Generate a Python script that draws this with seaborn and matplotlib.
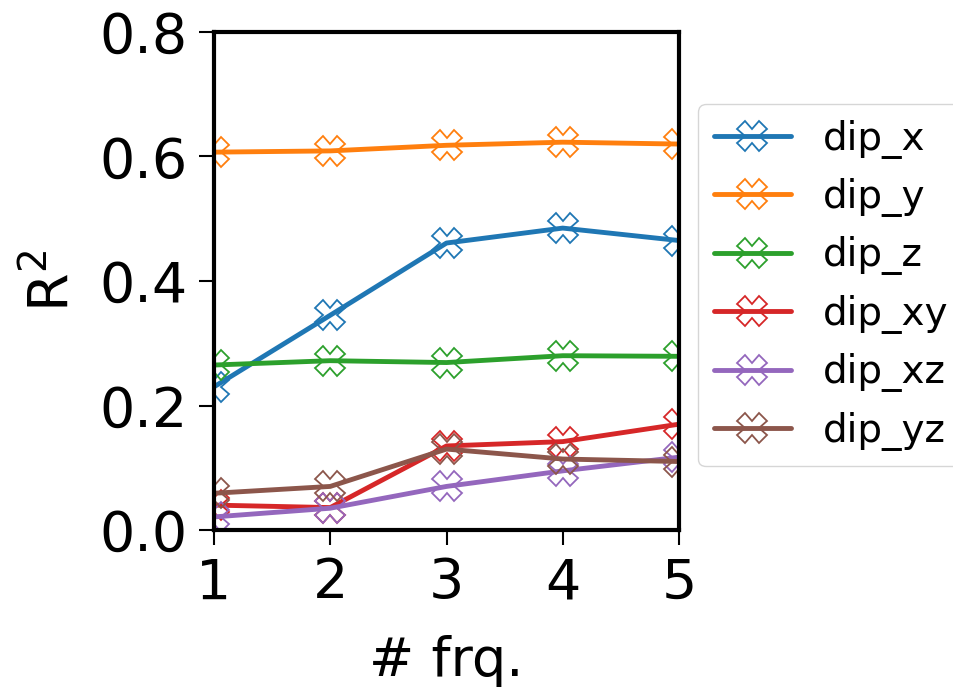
import numpy as np
import pandas as pd
import matplotlib
matplotlib.use("Agg")
import matplotlib.pyplot as plt
import seaborn as sns

# Number of frequencies used
n_freq = [1, 2, 3, 4, 5]

# R^2 scores per dipole component
dip_x = [0.230, 0.345, 0.461, 0.485, 0.465]
dip_y = [0.607, 0.609, 0.618, 0.623, 0.620]
dip_z = [0.265, 0.272, 0.269, 0.280, 0.279]
dip_xy = [0.040, 0.036, 0.135, 0.142, 0.170]
dip_xz = [0.021, 0.035, 0.070, 0.095, 0.117]
dip_yz = [0.059, 0.070, 0.130, 0.114, 0.110]

series_names = ["dip_x", "dip_y", "dip_z", "dip_xy", "dip_xz", "dip_yz"]
series_values = [dip_x, dip_y, dip_z, dip_xy, dip_xz, dip_yz]

df = pd.DataFrame(
    [(f, name, v) for name, vals in zip(series_names, series_values)
     for f, v in zip(n_freq, vals)],
    columns=["n_freq", "target", "r2"],
)

sns.set_style("ticks")
plt.rcParams["font.family"] = ["DejaVu Sans"]
plt.rcParams["text.color"] = "black"
plt.rcParams["axes.labelcolor"] = "black"
plt.rcParams["xtick.color"] = "black"
plt.rcParams["ytick.color"] = "black"

fig = plt.figure(figsize=(9.54, 6.90), dpi=100)
ax = fig.add_axes([214 / 954, 1 - 530 / 690, (679 - 214) / 954, (530 - 32) / 690])

sns.lineplot(
    data=df, x="n_freq", y="r2", hue="target", hue_order=series_names,
    palette="tab10", ax=ax, linewidth=3.5,
    marker="X", markersize=21, markerfacecolor="none", markeredgewidth=1.3,
)

# hollow markers outlined in each line's own colour
for line in ax.lines:
    line.set_markeredgecolor(line.get_color())
    line.set_markerfacecolor("none")

ax.set_xlim(1, 5)
ax.set_ylim(0, 0.8)
ax.set_xticks(n_freq)
ax.set_yticks([0.0, 0.2, 0.4, 0.6, 0.8])
ax.set_yticklabels(["0.0", "0.2", "0.4", "0.6", "0.8"])
ax.set_xlabel("# frq.", fontsize=39, labelpad=18)
ax.set_ylabel(r"R$^2$", fontsize=40, labelpad=14)
ax.tick_params(axis="both", labelsize=40, length=11, width=1.5,
               direction="out", pad=8, colors="black")
for sp in ax.spines.values():
    sp.set_linewidth(3)
    sp.set_color("black")

handles, labels = ax.get_legend_handles_labels()
for h in handles:
    h.set_markeredgecolor(h.get_color())
    h.set_markerfacecolor("none")
ax.legend(
    handles, labels, loc="upper left",
    bbox_to_anchor=(698 / 954, 1 - 104 / 690), bbox_transform=fig.transFigure,
    fontsize=28, handlelength=2.0, handletextpad=0.8, labelspacing=0.5,
    frameon=True, borderaxespad=0,
)

fig.savefig("out.png", dpi=100)
